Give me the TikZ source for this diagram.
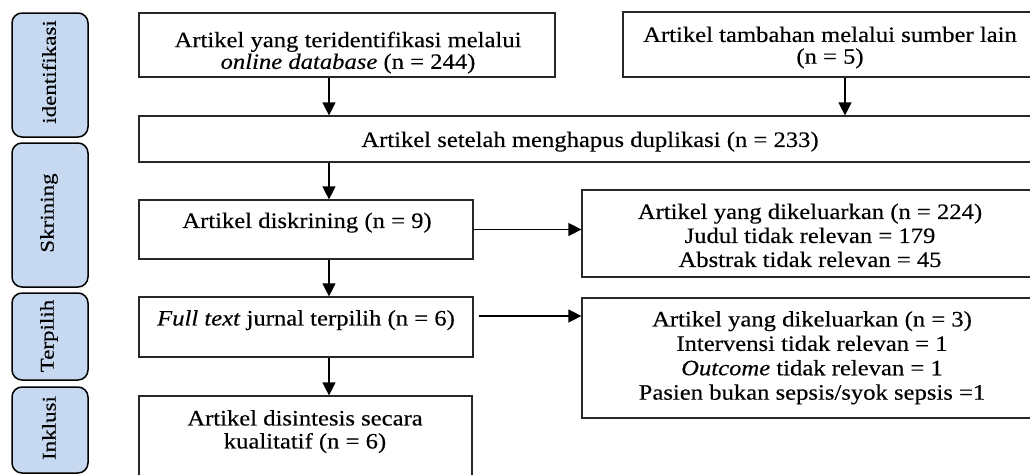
\documentclass[tikz,border=0pt]{standalone}
\usepackage{fontspec}
\setmainfont{Liberation Serif}[FakeStretch=1.12,FakeBold=0.3]
\newfontfamily\tabfont{Liberation Serif}[FakeStretch=1.18,FakeBold=0.15]
\usetikzlibrary{arrows.meta}
\definecolor{tabblue}{RGB}{198,217,240}
\definecolor{boxline}{RGB}{40,40,40}
\begin{document}
\begin{tikzpicture}[x=1pt,y=-1pt,
  box/.style={draw=boxline,line width=1.2pt,inner sep=0pt},
  txt/.style={inner sep=0pt,align=center,anchor=north,font=\fontsize{22}{23}\selectfont},
  tab/.style={draw=black,line width=1.5pt,fill=tabblue,rounded corners=10pt,rotate=90,inner sep=0pt},
  tabtext/.style={inner sep=0pt,rotate=90,font=\tabfont\fontsize{19.5}{22}\selectfont},
  arr/.style={draw=black,line width=1.3pt,-{Triangle[length=13pt,width=13pt]}}]
\useasboundingbox (0,0) rectangle (1030,474);
\clip (0,0) rectangle (1030,474);
\fill[white] (0,0) rectangle (1030,474);
% side tabs
\node[tab,minimum width=124,minimum height=76] (t1) at (50,75) {};
\node[tab,minimum width=144,minimum height=76] (t2) at (50,215) {};
\node[tab,minimum width=87,minimum height=76] (t3) at (50,336.5) {};
\node[tab,minimum width=86,minimum height=76] (t4) at (50,430) {};
\node[tabtext] (t1t) at (49,72) {identifikasi};
\node[tabtext] (t2t) at (49,213) {Skrining};
\node[tabtext] (t3t) at (49,336) {Terpilih};
\node[tabtext] (t4t) at (49,428) {Inklusi};
% boxes
\node[box,minimum width=416,minimum height=64] (db) at (347,45) {};
\node[box,minimum width=414,minimum height=65] (ot) at (830,44.5) {};
\node[box,minimum width=901,minimum height=46] (dup) at (589.5,139) {};
\node[box,minimum width=334,minimum height=59] (scr) at (306,229.5) {};
\node[box,minimum width=334,minimum height=60] (ful) at (306,327) {};
\node[box,minimum width=333,minimum height=100] (inc) at (305.5,446) {};
\node[box,minimum width=456,minimum height=87] (ex1) at (810,233.5) {};
\node[box,minimum width=456,minimum height=120] (ex2) at (810,358) {};
% texts
\node[txt,font=\fontsize{22}{21.7}\selectfont] (dbt) at (348,31.5) {Artikel yang teridentifikasi melalui\\\textit{online database} (n = 244)};
\node[txt,font=\fontsize{22}{21.7}\selectfont] (ott) at (830,26.5) {Artikel tambahan melalui sumber lain\\(n = 5)};
\node[txt] (dupt) at (590,131.5) {Artikel setelah menghapus duplikasi (n = 233)};
\node[txt] (scrt) at (307,212.5) {Artikel diskrining (n = 9)};
\node[txt] (fult) at (306,310) {\textit{Full text} jurnal terpilih (n = 6)};
\node[txt] (inct) at (305,410) {Artikel disintesis secara\\kualitatif (n = 6)};
\node[txt,font=\fontsize{22}{24}\selectfont] (ex1t) at (810,203.5) {Artikel yang dikeluarkan (n = 224)\\Judul tidak relevan = 179\\Abstrak tidak relevan = 45};
\node[txt,font=\fontsize{22}{24.4}\selectfont] (ex2t) at (812,311) {Artikel yang dikeluarkan (n = 3)\\Intervensi tidak relevan = 1\\\textit{Outcome} tidak relevan = 1\\Pasien bukan sepsis/syok sepsis =1};
% connectors
\coordinate (ax) at (329,0);
\coordinate (bx) at (845,0);
\draw[arr] (db.south -| ax) -- (dup.north -| ax);
\draw[arr] (ot.south -| bx) -- (dup.north -| bx);
\draw[arr] (dup.south -| ax) -- (scr.north -| ax);
\draw[arr] (scr.south -| ax) -- (ful.north -| ax);
\draw[arr] (ful.south -| ax) -- (inc.north -| ax);
\draw[arr] (scr.east) -- (scr.east -| ex1.west);
\coordinate (fs) at ([xshift=5pt,yshift=11pt]ful.east);
\draw[arr] (fs) -- (fs -| ex2.west);
\end{tikzpicture}
\end{document}
